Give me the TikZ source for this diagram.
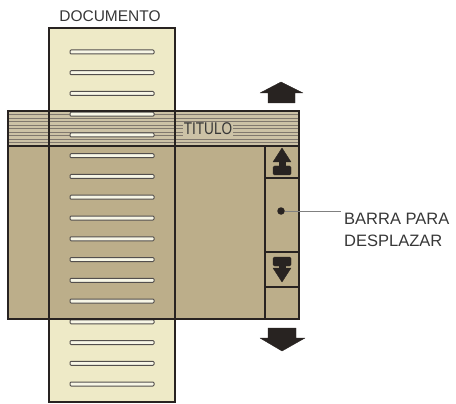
\documentclass[tikz,border=0pt]{standalone}
\usepackage{fontspec}
\setmainfont{Liberation Sans}
\usepackage{tikz}
\usetikzlibrary{
  positioning,
  backgrounds
}

\definecolor{docyellow}{RGB}{238,234,199}
\definecolor{wintan}{RGB}{188,174,138}
\definecolor{titletan}{RGB}{204,194,166}
\definecolor{stripe}{RGB}{128,120,110}
\definecolor{ink}{RGB}{40,35,33}
\definecolor{labelgray}{RGB}{55,55,55}

\begin{document}
\begin{tikzpicture}[x=1pt,y=-1pt,
      page/.style={
         draw=ink,
         line width=2.3pt,
         fill=docyellow
      },
      frame/.style={
         draw=ink,
         line width=2.3pt
      },
      docline/.style={
         draw=ink!80,
         fill=white!55!docyellow,
         line width=1pt,
         rounded corners=1pt
      },
      stripeline/.style={draw=stripe,line width=0.9pt},
      glyph/.style={fill=ink,draw=ink,line join=round},
      caption/.style={
         text=labelgray,
         inner sep=3pt,
         font=\fontsize{16.5}{22}\selectfont
      },
      leader/.style={draw=gray,line width=0.9pt},
      point/.style={coordinate}
    ]
    \useasboundingbox (0,0) rectangle (456,404);

    % the page behind the window
    \draw[page] (49,28) rectangle (175,402);
    \node (doc) [caption, font=\fontsize{15.5}{18}\selectfont, anchor=base] at (110,22) {DOCUMENTO};

    % window and title bar
    \fill[wintan] (8,111) rectangle (299,319);
    \fill[titletan] (8,111) rectangle (299,146);
    \foreach \sy in {114.5,118,121.5,125,128.5,132,135.5,139,142.5}
       \draw[stripeline] (8,\sy) -- (299,\sy);
    \node (title) [caption, fill=titletan, inner sep=1pt, font=\fontsize{17}{18}\selectfont\addfontfeature{FakeStretch=0.8}, anchor=base] at (208,134.5) {TITULO};

    % lines of text on the page
    \foreach \i [evaluate=\i as \ly using 52+20.75*\i] in {0,...,16}
       \draw[docline] (70,\ly-2) rectangle (154,\ly+2);
    \draw[frame] (49,28) rectangle (175,402);

    % window frame and scroll bar
    \draw[frame] (8,111) rectangle (299,319);
    \draw[frame] (8,146) -- (299,146);
    \draw[frame] (265,146) -- (265,319);
    \draw[frame] (265,178) -- (299,178);
    \draw[frame] (265,252) -- (299,252);
    \draw[frame] (265,287) -- (299,287);

    % scroll glyphs
    \fill[glyph] (282,148) -- (291,162) -- (273,162) -- cycle;
    \fill[glyph] (279,161) rectangle (285,167);
    \fill[glyph, rounded corners=1.5pt] (273,166) rectangle (291,175);
    \fill[glyph, rounded corners=1.5pt] (273,257) rectangle (291,266);
    \fill[glyph] (279,265) rectangle (285,270);
    \fill[glyph] (273,268) -- (291,268) -- (282,282) -- cycle;

    % big arrows
    \fill[glyph] (281,82) -- (303,93) -- (295,93) -- (295,103) -- (268,103) -- (268,93) -- (260,93) -- cycle;
    \fill[glyph] (268,328) -- (296,328) -- (296,338) -- (305,338) -- (282,351) -- (260,338) -- (268,338) -- cycle;

    % thumb and its label
    \node (dot) [circle, fill=ink, inner sep=0pt, minimum size=7.5pt] at (281,211) {};
    \node (bar1) [caption, anchor=base west] at (341,224.5) {BARRA PARA};
    \node (bar2) [caption, anchor=base west] at (341,246.5) {DESPLAZAR};
    \draw[leader] (dot) -- (dot -| bar1.west);
\end{tikzpicture}
\end{document}
